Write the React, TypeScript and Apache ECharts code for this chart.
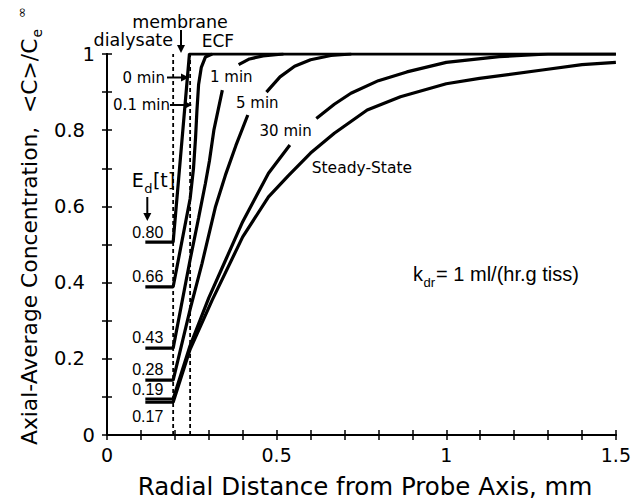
import React, { useEffect, useRef } from 'react';
import * as echarts from 'echarts';

// ---------- data ----------
const dialysateEdge = 0.195;
const membraneEdge = 0.245;
const edLabels = ['0.80', '0.66', '0.43', '0.28', '0.19', '0.17'];

const curve0min = [[0.113, 0.506], [0.195, 0.506], [0.243, 1.0], [1.5, 1.0]];
const curve01min = [[0.113, 0.389], [0.195, 0.389], [0.245, 0.62], [0.255, 0.7], [0.261, 0.78], [0.265, 0.85], [0.27, 0.92], [0.278, 0.965], [0.29, 0.992], [0.31, 1.0]];
const curve1minLow = [[0.113, 0.228], [0.195, 0.228], [0.245, 0.46], [0.27, 0.57], [0.29, 0.66], [0.302, 0.72], [0.315, 0.8], [0.34, 0.905]];
const curve1minHigh = [[0.388, 0.972], [0.42, 0.987], [0.46, 0.995], [0.52, 1.0]];
const curve5minLow = [[0.113, 0.144], [0.195, 0.144], [0.245, 0.33], [0.28, 0.45], [0.32, 0.6], [0.349, 0.682], [0.38, 0.76], [0.415, 0.84]];
const curve5minHigh = [[0.47, 0.9], [0.51, 0.94], [0.553, 0.968], [0.6, 0.985], [0.66, 0.996], [0.72, 1.0]];
const curve30minLow = [[0.113, 0.0945], [0.195, 0.0945], [0.245, 0.235], [0.3, 0.36], [0.35, 0.46], [0.4, 0.56], [0.434, 0.617], [0.476, 0.687], [0.539, 0.761]];
const curve30minHigh = [[0.617, 0.831], [0.67, 0.868], [0.719, 0.897], [0.8, 0.93], [0.884, 0.953], [1.0, 0.978], [1.156, 0.993], [1.3, 1.0], [1.5, 1.0]];
const curveSteady = [[0.113, 0.086], [0.195, 0.086], [0.245, 0.225], [0.31, 0.354], [0.4, 0.52], [0.476, 0.625], [0.534, 0.68], [0.6, 0.74], [0.67, 0.792], [0.767, 0.853], [0.865, 0.888], [1.0, 0.922], [1.098, 0.936], [1.283, 0.958], [1.4, 0.972], [1.5, 0.978]];

const xMin = 0, xMax = 1.5, yMin = 0, yMax = 1;

const WORD = '"DejaVu Sans", "Liberation Sans", Arial, sans-serif';
const NUM = '"Liberation Sans", Arial, sans-serif';

function measure(text: string, size: number, family: string) {
  const c = document.createElement('canvas').getContext('2d')!;
  c.font = `${size}px ${family}`;
  return c.measureText(text).width;
}

function txt(text: string, x: number, baseline: number, fs: number, align: string = 'left', family: string = WORD, extra: any = {}) {
  return {
    type: 'text', x, y: baseline - 0.35 * fs, z: 100,
    style: { text, fontSize: fs, fontFamily: family, fill: '#000', align, verticalAlign: 'middle', ...extra },
  };
}

function arrow(x1: number, y1: number, x2: number, y2: number) {
  const ang = Math.atan2(y2 - y1, x2 - x1);
  const L = 8, W = 4;
  const bx = x2 - L * Math.cos(ang), by = y2 - L * Math.sin(ang);
  const px = -Math.sin(ang) * W, py = Math.cos(ang) * W;
  return [
    { type: 'line', z: 100, shape: { x1, y1, x2: bx, y2: by }, style: { stroke: '#000', lineWidth: 2 } },
    { type: 'polygon', z: 100, shape: { points: [[x2, y2], [bx + px, by + py], [bx - px, by - py]] }, style: { fill: '#000' } },
  ];
}

export default function App() {
  const ref = useRef<HTMLDivElement>(null);
  useEffect(() => {
    document.body.style.margin = '0';
    const chart = echarts.init(ref.current!, undefined, { renderer: 'svg' });
    const line = (data: number[][], w = 3.2) => ({
      type: 'line', data, showSymbol: false, symbol: 'none', smooth: false,
      lineStyle: { color: '#000', width: w }, silent: true, z: 5,
    });
    const dashed = (x: number) => ({
      type: 'line', data: [[x, yMin], [x, yMax]], showSymbol: false, symbol: 'none',
      lineStyle: { color: '#000', width: 1.8, type: [4, 3] }, silent: true, z: 4,
    });

    const xFmt = (v: number) => { const r = Math.round(v * 10); return r % 5 === 0 ? String(r / 10) : ''; };
    const yFmt = (v: number) => {
      const r = Math.round(v * 10);
      if (r % 2 !== 0) return '';
      const s = String(r / 10);
      return s.indexOf('.') >= 0 ? `{d|${s}}` : `{i|${s}}`;
    };
    const axisCommon = {
      axisLine: { show: true, lineStyle: { color: '#000', width: 2 } },
      axisTick: { show: true, inside: true, length: 5, lineStyle: { color: '#000', width: 1.5 } },
      splitLine: { show: false },
    };

    // y title pieces
    const yTitle = 'Axial-Average Concentration,  <C>/C';
    const yfs = 21.8;
    const wMain = measure(yTitle, yfs, WORD);
    const wE = measure('e', 14, WORD);

    // k_dr pieces
    const kfs = 20;
    const wk = measure('k', kfs, NUM);
    const wdr = measure('dr', 13, NUM);

    // E_d[t]
    const efs = 19;
    const wEd = measure('E', efs, WORD);
    const wd = measure('d', 13, WORD);

    const edBaselines = [238.3, 281.7, 343.3, 375, 395, 421.7];

    const graphic: any[] = [
      txt('membrane', 180, 28, 17.5, 'center'),
      txt('dialysate', 173, 46.5, 17.5, 'right'),
      txt('ECF', 201.7, 46.7, 17, 'left'),
      ...arrow(181, 30, 181, 53),
      txt('0 min', 165, 83, 15, 'right'),
      ...arrow(167, 77.5, 189, 77.5),
      txt('0.1 min', 170, 110, 15, 'right'),
      ...arrow(170, 105, 192, 105),
      txt('1 min', 210, 82.5, 15, 'left'),
      txt('5 min', 236, 108.3, 15, 'left'),
      txt('30 min', 311.7, 136.7, 15, 'right'),
      txt('Steady-State', 311.7, 173.3, 15.5, 'left'),
      txt('E', 131.7, 186.7, efs, 'left'),
      txt('d', 131.7 + wEd + 0.5, 193, 13, 'left'),
      txt('[t]', 131.7 + wEd + wd + 1, 186.7, efs, 'left'),
      ...arrow(147.3, 197, 147.3, 221),
      ...edLabels.map((s, i) => txt(s, 163.3, edBaselines[i], 16, 'right', NUM)),
      txt('k', 413, 281, kfs, 'left', NUM),
      txt('dr', 413 + wk + 0.5, 287, 13, 'left', NUM),
      txt('= 1 ml/(hr.g tiss)', 413 + wk + wdr + 1.5, 281, kfs, 'left', NUM),
      txt('Radial Distance from Probe Axis, mm', 365, 495, 24.5, 'center'),
      {
        type: 'group', x: 29, y: 445, rotation: Math.PI / 2, z: 100,
        children: [
          { type: 'text', x: 0, y: 0, style: { text: yTitle, fontSize: yfs, fontFamily: WORD, fill: '#000', align: 'left', verticalAlign: 'middle' } },
          { type: 'text', x: wMain + 1, y: 7.5, style: { text: 'e', fontSize: 14, fontFamily: WORD, fill: '#000', align: 'left', verticalAlign: 'middle' } },
          { type: 'text', x: wMain + wE + 12, y: -8, style: { text: '∞', fontSize: 13, fontFamily: WORD, fill: '#000', align: 'left', verticalAlign: 'middle' } },
        ],
      },
    ];

    chart.setOption({
      animation: false,
      backgroundColor: '#fff',
      grid: { left: 107, right: 13, top: 54, bottom: 66, containLabel: false },
      xAxis: [
        { type: 'value', position: 'bottom', min: xMin, max: xMax, interval: 0.1, ...axisCommon,
          axisLabel: { formatter: xFmt, color: '#000', fontSize: 19, fontFamily: WORD, margin: 10, showMaxLabel: true, showMinLabel: true } },
        { type: 'value', position: 'top', min: xMin, max: xMax, interval: 0.1, ...axisCommon, axisLabel: { show: false } },
      ],
      yAxis: [
        { type: 'value', position: 'left', min: yMin, max: yMax, interval: 0.1, ...axisCommon,
          axisLabel: { formatter: yFmt, color: '#000', fontSize: 19.5, fontFamily: WORD, margin: 12,
            rich: { d: { fontSize: 19.5, fontFamily: WORD, padding: [0, 10, 0, 0] }, i: { fontSize: 19.5, fontFamily: WORD } } } },
        { type: 'value', position: 'right', min: yMin, max: yMax, interval: 0.1, ...axisCommon, axisLabel: { show: false } },
      ],
      series: [
        dashed(dialysateEdge), dashed(membraneEdge),
        line(curve0min), line(curve01min),
        line(curve1minLow), line(curve1minHigh),
        line(curve5minLow), line(curve5minHigh),
        line(curve30minLow), line(curve30minHigh),
        line(curveSteady),
      ],
      graphic,
    });
    return () => chart.dispose();
  }, []);
  return <div ref={ref} style={{ position: 'fixed', left: 0, top: 0, width: 634, height: 501, background: '#fff' }} />;
}
